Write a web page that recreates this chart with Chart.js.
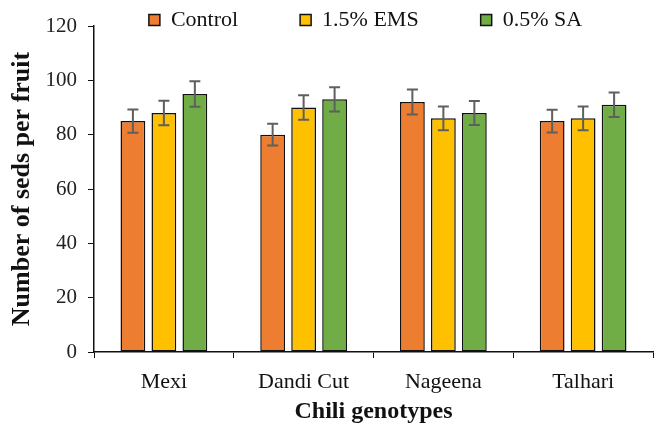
<!DOCTYPE html>
<html>
<head>
<meta charset="utf-8">
<script src="https://cdn.jsdelivr.net/npm/chart.js@4/dist/chart.umd.min.js"></script>
<style>
  html, body { margin: 0; padding: 0; background: #fff; }
  #wrap { width: 654px; height: 429px; }
</style>
</head>
<body>
<div id="wrap"><canvas id="seedChart"></canvas></div>
<script>
// genotypes on the x axis
const genotypes = ["Mexi", "Dandi Cut", "Nageena", "Talhari"];

// mean number of seeds per fruit
const controlValues = [85, 80, 92, 85];
const emsValues = [88, 90, 86, 86];
const saValues = [95, 93, 88, 91];

// error bar half lengths
const controlErrors = [4.3, 4.0, 4.6, 4.2];
const emsErrors = [4.5, 4.5, 4.4, 4.4];
const saErrors = [4.7, 4.5, 4.4, 4.5];

const yTicks = [0, 20, 40, 60, 80, 100, 120];

const serif = "'Liberation Serif', 'Times New Roman', serif";

// draws the error bars over each bar
const errorBars = {
    id: "errorBars",
    afterDatasetsDraw(chart) {
        const ctx = chart.ctx;
        const yScale = chart.scales.y;
        ctx.save();
        ctx.strokeStyle = "#5f5f5f";
        ctx.lineWidth = 2;
        chart.data.datasets.forEach((ds, i) => {
            const meta = chart.getDatasetMeta(i);
            meta.data.forEach((bar, j) => {
                const v = ds.data[j];
                const e = ds.errors[j];
                const yTop = yScale.getPixelForValue(v + e);
                const yBot = yScale.getPixelForValue(v - e);
                const x = bar.x;
                ctx.beginPath();
                ctx.moveTo(x, yTop);
                ctx.lineTo(x, yBot);
                ctx.moveTo(x - 5.5, yTop);
                ctx.lineTo(x + 5.5, yTop);
                ctx.moveTo(x - 5.5, yBot);
                ctx.lineTo(x + 5.5, yBot);
                ctx.stroke();
            });
        });
        ctx.restore();
    }
};

// keeps the legend small and places it over the plot top
const legendPlace = {
    id: "legendPlace",
    beforeLayout(chart) {
        const lg = chart.legend;
        if (lg && !lg._patched) {
            const fit = lg.fit.bind(lg);
            lg.fit = function () {
                fit();
                this.height = 26;
            };
            lg._patched = true;
        }
    },
    afterLayout(chart) {
        const lg = chart.legend;
        const pad = lg.options.labels.padding;
        lg.top = 20 - 11 - pad;
        lg.bottom = 36;
        lg.height = lg.bottom - lg.top;
        lg.left += 39;
        lg.right += 39;
    }
};

function makeSet(label, values, errors, color) {
    return {
        label: label,
        data: values,
        errors: errors,
        backgroundColor: color,
        borderColor: "#111",
        borderWidth: 1.5,
        borderSkipped: false,
        categoryPercentage: 0.665,
        barPercentage: 0.8
    };
}

new Chart(document.getElementById("seedChart"), {
    type: "bar",
    data: {
        labels: genotypes,
        datasets: [
            makeSet("Control", controlValues, controlErrors, "#ED7D31"),
            makeSet("1.5% EMS", emsValues, emsErrors, "#FFC000"),
            makeSet("0.5% SA", saValues, saErrors, "#70AD47")
        ]
    },
    options: {
        responsive: true,
        maintainAspectRatio: false,
        animation: false,
        layout: { padding: { left: 0, right: 1, top: 0, bottom: 0 } },
        plugins: {
            tooltip: { enabled: false },
            legend: {
                position: "top",
                labels: {
                    boxWidth: 11,
                    boxHeight: 11,
                    padding: 62,
                    color: "#111",
                    font: { family: serif, size: 22 }
                }
            }
        },
        scales: {
            x: {
                grid: {
                    display: true,
                    drawOnChartArea: false,
                    drawTicks: true,
                    tickLength: 6,
                    color: "#111",
                    offset: true
                },
                border: { color: "#111", width: 1.5 },
                ticks: {
                    color: "#111",
                    padding: 11,
                    font: { family: serif, size: 22 }
                },
                title: {
                    display: true,
                    text: "Chili genotypes",
                    color: "#111",
                    padding: { top: 0, bottom: 3 },
                    font: { family: serif, size: 24, weight: "bold" }
                },
                afterFit(scale) { scale.height = 77; }
            },
            y: {
                min: 0,
                max: 120,
                afterBuildTicks(scale) {
                    scale.ticks = yTicks.map(v => ({ value: v }));
                },
                grid: {
                    display: true,
                    drawOnChartArea: false,
                    drawTicks: true,
                    tickLength: 6,
                    color: "#111"
                },
                border: { color: "#111", width: 1.5 },
                ticks: {
                    color: "#222",
                    padding: 11,
                    font: { family: serif, size: 21 }
                },
                title: {
                    display: true,
                    text: "Number of seds per fruit",
                    color: "#111",
                    padding: { top: 7, bottom: 0 },
                    font: { family: serif, size: 26, weight: "bold" }
                },
                afterFit(scale) { scale.width = 94; }
            }
        }
    },
    plugins: [errorBars, legendPlace]
});
</script>
</body>
</html>
